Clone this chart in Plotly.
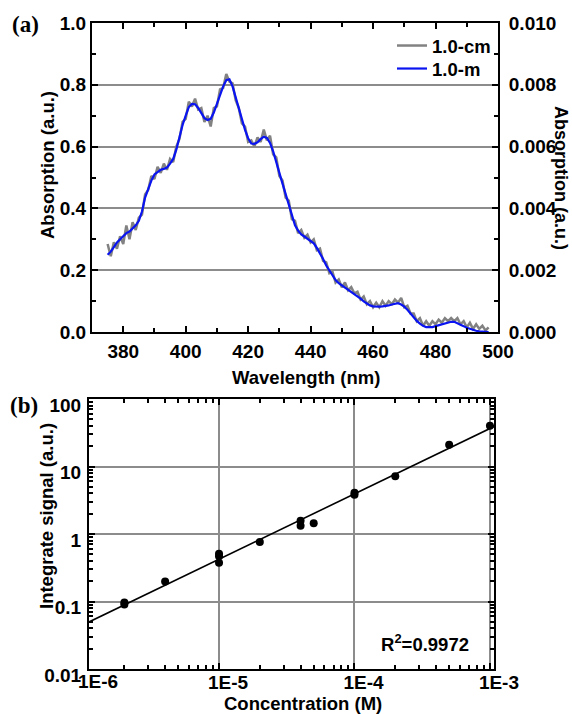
import plotly.graph_objects as go

# ---------------- Data: panel (a) ----------------
wavelength_nm = list(range(375, 498))

# 1.0-cm cell, read against the left axis (a.u.)
absorption_1cm = [
    0.285, 0.245, 0.290, 0.270, 0.310, 0.285, 0.345, 0.300, 0.355, 0.330,   # 375-384
    0.370, 0.380, 0.445, 0.460, 0.505, 0.495, 0.535, 0.515, 0.545, 0.525,   # 385-394
    0.560, 0.550, 0.600, 0.625, 0.680, 0.690, 0.745, 0.730, 0.755, 0.720,   # 395-404
    0.725, 0.680, 0.700, 0.665, 0.725, 0.730, 0.785, 0.790, 0.835, 0.810,   # 405-414
    0.805, 0.750, 0.725, 0.675, 0.665, 0.615, 0.620, 0.600, 0.630, 0.615,   # 415-424
    0.655, 0.620, 0.635, 0.575, 0.565, 0.505, 0.490, 0.435, 0.425, 0.365,   # 425-434
    0.360, 0.320, 0.330, 0.305, 0.315, 0.290, 0.300, 0.265, 0.270, 0.230,   # 435-444
    0.225, 0.190, 0.195, 0.160, 0.170, 0.145, 0.160, 0.135, 0.145, 0.125,   # 445-454
    0.130, 0.105, 0.115, 0.090, 0.100, 0.080, 0.095, 0.080, 0.100, 0.085,   # 455-464
    0.100, 0.090, 0.105, 0.095, 0.110, 0.080, 0.085, 0.060, 0.060, 0.035,   # 465-474
    0.045, 0.020, 0.035, 0.020, 0.035, 0.025, 0.040, 0.030, 0.045, 0.035,   # 475-484
    0.045, 0.035, 0.045, 0.025, 0.035, 0.015, 0.030, 0.010, 0.025, 0.010,   # 485-494
    0.020, 0.005, 0.015,                                                     # 495-497
]

# 1.0-m fibre, read against the right axis (a.u.)
absorption_1m = [
    0.00250, 0.00260, 0.00275, 0.00290, 0.00300, 0.00310, 0.00320, 0.00325, 0.00335, 0.00345,  # 375-384
    0.00360, 0.00390, 0.00435, 0.00465, 0.00490, 0.00510, 0.00518, 0.00525, 0.00528, 0.00532,  # 385-394
    0.00545, 0.00560, 0.00590, 0.00635, 0.00670, 0.00700, 0.00728, 0.00738, 0.00737, 0.00725,  # 395-404
    0.00710, 0.00692, 0.00686, 0.00690, 0.00710, 0.00740, 0.00770, 0.00795, 0.00815, 0.00818,  # 405-414
    0.00795, 0.00760, 0.00720, 0.00685, 0.00654, 0.00627, 0.00610, 0.00609, 0.00614, 0.00624,  # 415-424
    0.00632, 0.00628, 0.00612, 0.00585, 0.00553, 0.00515, 0.00480, 0.00445, 0.00410, 0.00375,  # 425-434
    0.00345, 0.00328, 0.00316, 0.00309, 0.00302, 0.00294, 0.00287, 0.00272, 0.00255, 0.00236,  # 435-444
    0.00215, 0.00198, 0.00183, 0.00168, 0.00158, 0.00151, 0.00144, 0.00138, 0.00131, 0.00123,  # 445-454
    0.00116, 0.00108, 0.00099, 0.00091, 0.00086, 0.00083, 0.00082, 0.00082, 0.00083, 0.00084,  # 455-464
    0.00086, 0.00089, 0.00092, 0.00093, 0.00089, 0.00082, 0.00072, 0.00060, 0.00046, 0.00036,  # 465-474
    0.00027, 0.00020, 0.00016, 0.00015, 0.00016, 0.00019, 0.00022, 0.00025, 0.00028, 0.00031,  # 475-484
    0.00033, 0.00033, 0.00029, 0.00024, 0.00019, 0.00014, 0.00010, 0.00007, 0.00004, 0.00002,  # 485-494
    0.00001, 0.00000, 0.00000,                                                                 # 495-497
]

# ---------------- Data: panel (b) ----------------
concentration_M = [2e-6, 2e-6, 4e-6, 1e-5, 1e-5, 1e-5, 2e-5, 4e-5, 4e-5, 5e-5,
                   1e-4, 1e-4, 2e-4, 5e-4, 1e-3]
integrated_signal = [0.090, 0.097, 0.197, 0.51, 0.47, 0.375, 0.76, 1.57, 1.32, 1.44,
                     3.8, 4.1, 7.2, 21.0, 40.0]
fit_concentration = [1.096e-6, 1.072e-3]
fit_signal = [0.0497, 39.1]

x_tick_vals_b = [1e-5, 1e-4, 1e-3]
x_tick_text_b = ["1E-5", "1E-4", "1E-3"]
y_tick_vals_b = [0.01, 0.1, 1, 10, 100]
y_tick_text_b = ["0.01", "0.1", "1", "10", "100"]

FONT = "Liberation Sans, Arial, sans-serif"
SERIF = "Liberation Serif, Times New Roman, serif"
GRID = "#8c8c8c"

W, H = 572, 714

fig = go.Figure()

fig.add_trace(go.Scatter(x=wavelength_nm, y=absorption_1cm, mode="lines", name="1.0-cm",
                         line=dict(color="#828282", width=2.5), xaxis="x", yaxis="y",
                         legend="legend"))
fig.add_trace(go.Scatter(x=wavelength_nm, y=absorption_1m, mode="lines", name="1.0-m",
                         line=dict(color="#0a14f0", width=2.2), xaxis="x", yaxis="y2",
                         legend="legend2"))

fig.add_trace(go.Scatter(x=fit_concentration, y=fit_signal, mode="lines", showlegend=False,
                         line=dict(color="black", width=1.6), xaxis="x2", yaxis="y3"))
fig.add_trace(go.Scatter(x=concentration_M, y=integrated_signal, mode="markers", showlegend=False,
                         marker=dict(color="black", size=8), xaxis="x2", yaxis="y3"))

tickfont = dict(family=FONT, size=19, color="black", weight="bold")

def minor_log(decades):
    return [m * 10 ** d for d in decades for m in range(2, 10)]

axis_common = dict(showline=True, linecolor="black", linewidth=2, ticks="inside",
                   tickcolor="black", tickwidth=1.5, ticklen=6, tickfont=tickfont,
                   zeroline=False, automargin=False)

legend_font = dict(family=FONT, size=18.5, color="black", weight="bold")

fig.update_layout(
    width=W, height=H,
    margin=dict(l=0, r=0, t=0, b=0, pad=0, autoexpand=False),
    paper_bgcolor="white", plot_bgcolor="white",
    showlegend=True,
    legend=dict(x=392 / W, y=1 - 27 / H, xanchor="left", yanchor="top",
                bgcolor="rgba(0,0,0,0)", font=legend_font),
    legend2=dict(x=392 / W, y=1 - 50 / H, xanchor="left", yanchor="top",
                 bgcolor="rgba(0,0,0,0)", font=legend_font),
    xaxis=dict(domain=[92 / W, 498 / W], anchor="y", range=[370, 500],
               dtick=20, tick0=0, mirror="ticks", showgrid=False,
               ticklabelstandoff=1,
               minor=dict(dtick=10, tick0=0, ticks="inside", ticklen=4,
                          tickcolor="black", tickwidth=1.5, showgrid=False),
               **axis_common),
    yaxis=dict(domain=[1 - 332 / H, 1 - 23 / H], anchor="x", range=[0, 1.0],
               dtick=0.2, tick0=0, tickformat=".1f", mirror=True,
               showgrid=True, gridcolor=GRID, gridwidth=1.5,
               ticklabelstandoff=0,
               minor=dict(dtick=0.1, tick0=0, ticks="inside", ticklen=4,
                          tickcolor="black", tickwidth=1.5, showgrid=False),
               **axis_common),
    yaxis2=dict(overlaying="y", side="right", anchor="x", range=[0, 0.0100001],
                dtick=0.002, tick0=0, tickformat=".3f", showgrid=False,
                ticklabelstandoff=5, showticklabels=True,
                minor=dict(dtick=0.001, tick0=0, ticks="inside", ticklen=4,
                           tickcolor="black", tickwidth=1.5, showgrid=False),
                **axis_common),
    xaxis2=dict(domain=[89 / W, 494 / W], anchor="y3", type="log",
                range=[-5.96, -2.97], tickvals=x_tick_vals_b, ticktext=x_tick_text_b,
                mirror="ticks", showgrid=True, gridcolor=GRID, gridwidth=1.5,
                ticklabelstandoff=-5, ticklabelshift=9,
                minor=dict(tickvals=minor_log([-6, -5, -4]), ticks="inside", ticklen=4,
                           tickcolor="black", tickwidth=1.5, showgrid=False),
                **axis_common),
    yaxis3=dict(domain=[1 - 669 / H, 1 - 399 / H], anchor="x2", type="log",
                range=[-2, 2], tickvals=y_tick_vals_b, ticktext=y_tick_text_b,
                mirror="ticks", showgrid=True, gridcolor=GRID, gridwidth=1.5,
                ticklabelstandoff=2, ticklabelshift=6,
                minor=dict(tickvals=minor_log([-2, -1, 0, 1]), ticks="inside", ticklen=4,
                           tickcolor="black", tickwidth=1.5, showgrid=False),
                **axis_common),
)

title_font = dict(family=FONT, size=18.5, color="black", weight="bold")
ann = [
    dict(text="(a)", x=25 / W, y=1 - 25 / H, textangle=0,
         font=dict(family=SERIF, size=23, color="black", weight="bold")),
    dict(text="(b)", x=24 / W, y=1 - 405 / H, textangle=0,
         font=dict(family=SERIF, size=23, color="black", weight="bold")),
    dict(text="Absorption (a.u.)", x=47 / W, y=1 - 165 / H, textangle=-90, font=title_font),
    dict(text="Absorption (a.u.)", x=561 / W, y=1 - 178 / H, textangle=90,
         font=dict(family=FONT, size=18, color="black", weight="bold")),
    dict(text="Wavelength (nm)", x=306 / W, y=1 - 377 / H, textangle=0, font=title_font),
    dict(text="Integrate signal (a.u.)", x=46 / W, y=1 - 516 / H, textangle=-90, font=title_font),
    dict(text="Concentration (M)", x=303 / W, y=1 - 703 / H, textangle=0, font=title_font),
    dict(text="R<sup>2</sup>=0.9972", x=425 / W, y=1 - 643 / H, textangle=0, font=title_font),
    dict(text="1E-6", x=98 / W, y=1 - 681 / H, textangle=0, font=tickfont),
]
for a in ann:
    fig.add_annotation(xref="paper", yref="paper", showarrow=False,
                       xanchor="center", yanchor="middle", **a)

fig.write_html("out.html",
               config={"displayModeBar": False},
               post_script="document.body.style.margin='0';document.body.style.padding='0';")
